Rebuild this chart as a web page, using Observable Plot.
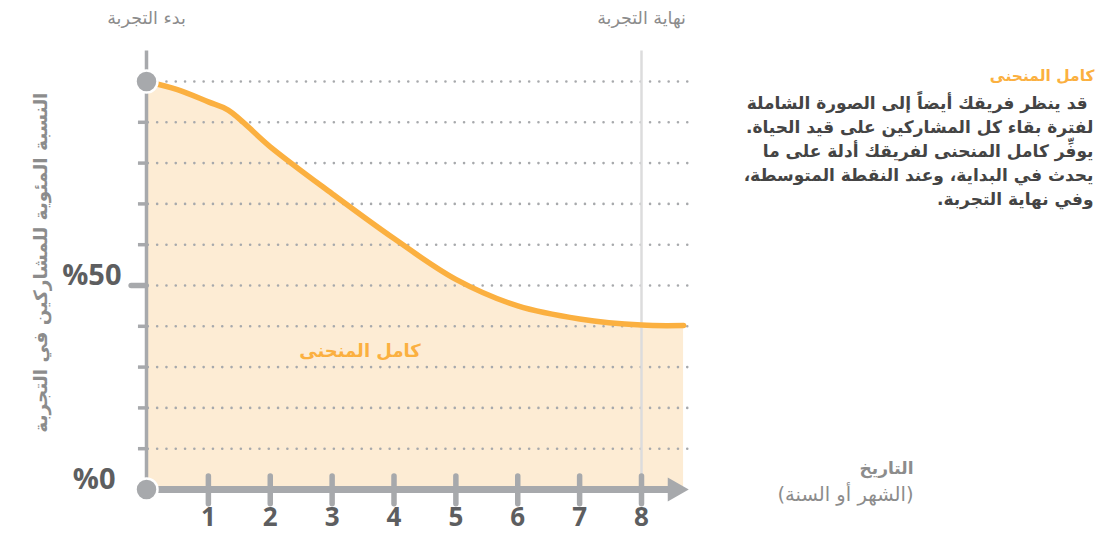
<!DOCTYPE html>
<html>
<head>
<meta charset="utf-8">
<script src="https://cdn.jsdelivr.net/npm/d3@7"></script>
<script src="https://cdn.jsdelivr.net/npm/@observablehq/plot@0.6"></script>
<style>
  html, body { margin: 0; padding: 0; background: #ffffff; }
  #chart svg { display: block; }
</style>
</head>
<body>
<div id="chart"></div>
<script>
// ---- data ----
const curveX = [0, 0.5, 1, 1.32, 2, 3, 4, 5, 6, 7, 8, 8.68];
const curveY = [100, 98, 95, 93, 84, 72.5, 61.5, 51.5, 45, 41.8, 40.3, 40.2];
const xTicks = [1, 2, 3, 4, 5, 6, 7, 8];
const xTickLabels = ["1", "2", "3", "4", "5", "6", "7", "8"];
const yGrid = [10, 20, 30, 40, 50, 60, 70, 80, 90, 100];
const yMinorTicks = [10, 20, 30, 40, 60, 70, 80, 90];
const yMajorTicks = [50];
const yMajorLabels = ["%50"];
const yZeroLabel = ["%0"];
const startLabel = "بدء التجربة";
const endLabel = "نهاية التجربة";
const endX = 8;
const axisEndX = 8.57;
const gridEndX = 8.76;
const axisTopY = 107.5;
const yTitle = "النسبة المئوية للمشاركين في التجربة";
const curveLabel = "كامل المنحنى";
const noteTitle = "كامل المنحنى";
const noteLines = [
  "\u200F قد ينظر فريقك أيضاً إلى الصورة الشاملة",
  "\u200Fلفترة بقاء كل المشاركين على قيد الحياة.\u200F",
  "\u200Fيوفِّر كامل المنحنى لفريقك أدلة على ما",
  "\u200Fيحدث في البداية، وعند النقطة المتوسطة،\u200F",
  "\u200Fوفي نهاية التجربة.\u200F"
];
const xTitle = "التاريخ";
const xSubtitle = "\u200F(الشهر أو السنة)\u200F";

const curve = curveX.map((x, i) => ({x, y: curveY[i]}));

// colours
const gray = "#a7a9ac";
const darkGray = "#5d5e60";
const textGray = "#8c8c8c";
const orange = "#fbb040";
const peach = "#fdecd4";
const arabic = "'DejaVu Sans', sans-serif";
const latin = "'Open Sans', sans-serif";

// right-pointing arrowhead symbol
const arrowHead = {
  draw(ctx) {
    ctx.moveTo(-9, -12);
    ctx.lineTo(12, 0);
    ctx.lineTo(-9, 12);
    ctx.closePath();
  }
};

const plot = Plot.plot({
  width: 1108,
  height: 533,
  margin: 0,
  x: {domain: [0, 8], range: [146, 641], axis: null},
  y: {domain: [0, 100], range: [489, 81], axis: null},
  style: {background: "#ffffff", overflow: "visible"},
  marks: [
    Plot.areaY(curve, {x: "x", y: "y", fill: peach, curve: "catmull-rom"}),
    Plot.ruleY(yGrid, {y: d => d, x1: 0.03, x2: gridEndX, stroke: gray, strokeWidth: 2.6,
      strokeDasharray: "0,9.3", strokeLinecap: "round"}),
    Plot.ruleX([endX], {x: d => d, y1: 0, y2: axisTopY, stroke: "#dcdcdd", strokeWidth: 2.5}),
    Plot.line(curve, {x: "x", y: "y", stroke: orange, strokeWidth: 5.5, curve: "catmull-rom",
      strokeLinecap: "round"}),
    Plot.ruleX([0], {x: d => d, y1: 0, y2: axisTopY, stroke: gray, strokeWidth: 3.5}),
    Plot.ruleY(yMinorTicks, {y: d => d, x1: -0.13, x2: 0, stroke: gray, strokeWidth: 3.5}),
    Plot.ruleY(yMajorTicks, {y: d => d, x1: -0.24, x2: 0, stroke: gray, strokeWidth: 5.5, strokeLinecap: "round"}),
    Plot.ruleY([0], {y: d => d, x1: 0, x2: axisEndX, stroke: gray, strokeWidth: 7}),
    Plot.dot([axisEndX], {x: d => d, y: 0, symbol: arrowHead, fill: gray, stroke: null}),
    Plot.ruleX(xTicks, {x: d => d, y1: -3.6, y2: 3.2, stroke: gray, strokeWidth: 5.5, strokeLinecap: "round"}),
    Plot.dot([100, 0], {x: 0, y: d => d, r: 11, fill: gray, stroke: "#ffffff", strokeWidth: 2.5}),
    // x tick labels
    Plot.text(xTicks, {x: d => d, y: 0, text: (d, i) => xTickLabels[i], dy: 28, fill: darkGray,
      fontSize: 26, fontWeight: "bold", fontFamily: latin}),
    // y labels
    Plot.text(yMajorTicks, {x: 0, y: d => d, text: (d, i) => yMajorLabels[i], dx: -25, dy: -10,
      textAnchor: "end", fill: darkGray, fontSize: 29, fontWeight: "bold", fontFamily: latin}),
    Plot.text([0], {x: 0, y: d => d, text: (d, i) => yZeroLabel[i], dx: -31, dy: -10,
      textAnchor: "end", fill: darkGray, fontSize: 29, fontWeight: "bold", fontFamily: latin}),
    // top labels
    Plot.text([0, endX], {x: d => d, y: axisTopY, text: (d, i) => i === 0 ? startLabel : endLabel,
      dy: -33, fill: textGray, fontSize: 17.5, fontFamily: arabic}),
    // y title
    Plot.text([yTitle], {x: -1.71, y: 55.6, text: d => d, rotate: -90,
      fill: textGray, fontSize: 18.5, fontWeight: "bold", fontFamily: arabic}),
    // curve label
    Plot.text([curveLabel], {x: 3.45, y: 34, text: d => d, fill: orange, fontSize: 18,
      fontWeight: "bold", fontFamily: arabic}),
    // side note
    Plot.text([noteTitle], {frameAnchor: "top-right", dx: -14, dy: 69, text: d => d, textAnchor: "end",
      fill: orange, fontSize: 15.5, fontWeight: "bold", fontFamily: arabic}),
    Plot.text([noteLines.join("\n")], {frameAnchor: "top-right", dx: -15, dy: 91, text: d => d,
      textAnchor: "end", lineAnchor: "top", lineHeight: 1.42, fill: "#444444", fontSize: 17,
      fontWeight: "bold", fontFamily: arabic}),
    // x title
    Plot.text([xTitle], {frameAnchor: "top-left", dx: 913, dy: 461, text: d => d, textAnchor: "end",
      fill: textGray, fontSize: 17, fontWeight: "bold", fontFamily: arabic}),
    Plot.text([xSubtitle], {frameAnchor: "top-left", dx: 913, dy: 487, text: d => d, textAnchor: "end",
      fill: textGray, fontSize: 19.5, fontFamily: arabic})
  ]
});

document.getElementById("chart").appendChild(plot);
</script>
</body>
</html>
